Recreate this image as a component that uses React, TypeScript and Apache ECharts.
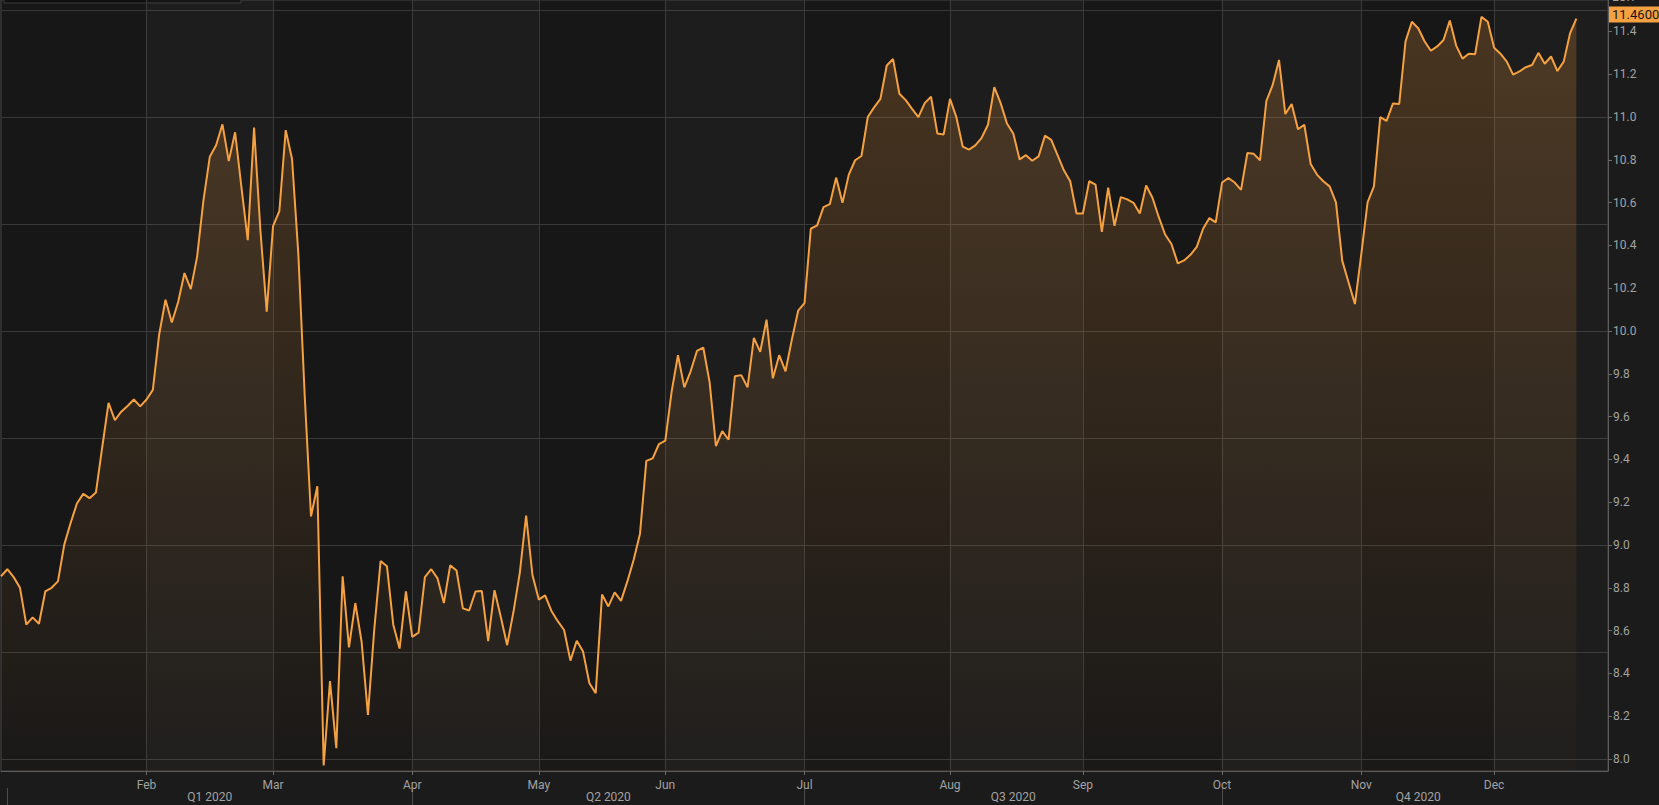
import React, { useEffect, useRef } from "react";
import * as echarts from "echarts";

// ---- data ----
const START_DATE = "2019-12-31";
const HOLIDAYS = ["2020-01-01", "2020-04-10", "2020-04-13", "2020-05-01", "2020-12-24", "2020-12-25"];
const SLOT_COUNT = 255; // trading-day slots on the axis (data + empty space to the right)
const MONTH_LABELS = ["", "Feb", "Mar", "Apr", "May", "Jun", "Jul", "Aug", "Sep", "Oct", "Nov", "Dec"];
const QUARTER_LABELS = ["Q1 2020", "Q2 2020", "Q3 2020", "Q4 2020"];
const Y_LABEL_TICKS = [8.0, 8.2, 8.4, 8.6, 8.8, 9.0, 9.2, 9.4, 9.6, 9.8, 10.0, 10.2, 10.4, 10.6, 10.8, 11.0, 11.2, 11.4];
const Y_GRID_LEVELS = [8.0, 8.5, 9.0, 9.5, 10.0, 10.5, 11.0, 11.5];
const Y_MIN = 7.944;
const Y_MAX = 11.547;
const CURRENCY = "EUR";
const PRICES = [
  8.854, 8.887, 8.85, 8.8, 8.628, 8.662, 8.632, 8.783, 8.8, 8.83,
  9.002, 9.103, 9.194, 9.239, 9.219, 9.245, 9.457, 9.664, 9.583, 9.623,
  9.65, 9.68, 9.648, 9.68, 9.725, 9.984, 10.146, 10.04, 10.136, 10.271,
  10.196, 10.348, 10.611, 10.814, 10.868, 10.966, 10.794, 10.929, 10.672, 10.425,
  10.951, 10.47, 10.091, 10.49, 10.561, 10.939, 10.804, 10.358, 9.7, 9.134,
  9.275, 7.97, 8.364, 8.051, 8.854, 8.522, 8.729, 8.547, 8.206, 8.607,
  8.925, 8.901, 8.628, 8.516, 8.783, 8.571, 8.591, 8.85, 8.887, 8.844,
  8.729, 8.905, 8.881, 8.704, 8.694, 8.783, 8.785, 8.551, 8.789, 8.664,
  8.532, 8.688, 8.87, 9.138, 8.86, 8.745, 8.765, 8.692, 8.644, 8.603,
  8.46, 8.553, 8.502, 8.354, 8.308, 8.769, 8.713, 8.779, 8.739, 8.83,
  8.931, 9.053, 9.393, 9.405, 9.472, 9.488, 9.717, 9.887, 9.737, 9.812,
  9.907, 9.923, 9.761, 9.462, 9.532, 9.492, 9.789, 9.794, 9.737, 9.968,
  9.903, 10.053, 9.779, 9.887, 9.812, 9.96, 10.095, 10.13, 10.478, 10.494,
  10.579, 10.593, 10.717, 10.599, 10.731, 10.798, 10.818, 11.0, 11.045, 11.085,
  11.241, 11.271, 11.109, 11.079, 11.038, 11.0, 11.065, 11.095, 10.923, 10.919,
  11.085, 11.0, 10.862, 10.848, 10.868, 10.903, 10.964, 11.14, 11.065, 10.97,
  10.923, 10.802, 10.822, 10.796, 10.816, 10.913, 10.893, 10.822, 10.751, 10.7,
  10.549, 10.549, 10.7, 10.684, 10.464, 10.67, 10.492, 10.626, 10.615, 10.599,
  10.549, 10.68, 10.623, 10.532, 10.451, 10.407, 10.316, 10.33, 10.356, 10.393,
  10.478, 10.528, 10.508, 10.694, 10.715, 10.694, 10.66, 10.832, 10.828, 10.798,
  11.075, 11.15, 11.267, 11.014, 11.061, 10.943, 10.964, 10.781, 10.731, 10.7,
  10.676, 10.601, 10.328, 10.227, 10.126, 10.358, 10.601, 10.676, 11.0, 10.982,
  11.063, 11.061, 11.354, 11.445, 11.415, 11.354, 11.31, 11.33, 11.36, 11.451,
  11.334, 11.273, 11.296, 11.294, 11.468, 11.445, 11.324, 11.296, 11.259, 11.198,
  11.213, 11.233, 11.243, 11.3, 11.249, 11.283, 11.215, 11.259, 11.391, 11.46,
];

function buildDates(): string[] {
  const out: string[] = [];
  const d = new Date(START_DATE + "T00:00:00Z");
  while (out.length < SLOT_COUNT) {
    const wd = d.getUTCDay();
    const s = d.toISOString().slice(0, 10);
    if (wd !== 0 && wd !== 6 && HOLIDAYS.indexOf(s) < 0) out.push(s);
    d.setUTCDate(d.getUTCDate() + 1);
  }
  return out;
}

export default function App() {
  const ref = useRef<HTMLDivElement>(null);

  useEffect(() => {
    if (!ref.current) return;
    const chart = echarts.init(ref.current, null, { renderer: "svg" });

    const dates = buildDates();
    const monthOf = (s: string) => parseInt(s.slice(5, 7), 10) - 1;
    const monthStarts: number[] = [];
    for (let i = 1; i < dates.length; i++) {
      if (monthOf(dates[i]) !== monthOf(dates[i - 1])) monthStarts.push(i);
    }
    const labelledMonthStarts = new Set(monthStarts.filter((i) => MONTH_LABELS[monthOf(dates[i])] !== ""));
    const quarterStarts = monthStarts.filter((i) => monthOf(dates[i]) % 3 === 0);
    const quarterStartSet = new Set(quarterStarts);
    const quarterLabelAt = new Map<number, string>();
    quarterStarts.forEach((s, q) => {
      const e = q + 1 < quarterStarts.length ? quarterStarts[q + 1] : dates.length - 1;
      quarterLabelAt.set(Math.round((s + e) / 2), QUARTER_LABELS[q]);
    });

    // alternating month bands (even months lighter)
    const bands: any[] = [];
    monthStarts.forEach((s, k) => {
      const m = monthOf(dates[s]);
      if (m % 2 === 1) {
        const e = k + 1 < monthStarts.length ? monthStarts[k + 1] : dates.length - 1;
        bands.push([{ xAxis: dates[s] }, { xAxis: dates[e] }]);
      }
    });

    const last = PRICES[PRICES.length - 1];
    const labelColor = "#a2a2a2";
    const gridColor = "#383838";

    chart.setOption({
      animation: false,
      backgroundColor: "#1b1b1b",
      textStyle: { fontFamily: "Roboto, 'Open Sans', sans-serif" },
      grid: {
        left: 1,
        right: 51,
        top: 0,
        bottom: 34,
        show: true,
        backgroundColor: "#171717",
        borderColor: "#444444",
        borderWidth: 1,
      },
      xAxis: [
        {
          type: "category",
          data: dates,
          boundaryGap: false,
          position: "bottom",
          axisLine: { show: true, lineStyle: { color: "#5c5c5c", width: 1 } },
          axisTick: {
            show: true,
            length: 4,
            interval: (i: number) => labelledMonthStarts.has(i),
            lineStyle: { color: "#6a6a6a" },
          },
          axisLabel: {
            show: true,
            interval: (i: number) => labelledMonthStarts.has(i),
            formatter: (v: string) => MONTH_LABELS[monthOf(v)],
            color: labelColor,
            fontSize: 12,
            margin: 8,
          },
          splitLine: {
            show: true,
            interval: (i: number) => labelledMonthStarts.has(i),
            lineStyle: { color: gridColor, width: 1 },
          },
        },
        {
          type: "category",
          data: dates,
          boundaryGap: false,
          position: "bottom",
          offset: 17,
          axisLine: { show: false },
          axisTick: {
            show: true,
            length: 17,
            interval: (i: number) => quarterStartSet.has(i),
            lineStyle: { color: "#4c4c4c" },
          },
          axisLabel: {
            show: true,
            interval: (i: number) => quarterLabelAt.has(i),
            formatter: (_v: string, i: number) => quarterLabelAt.get(i) || "",
            color: labelColor,
            fontSize: 12,
            margin: 3,
          },
          splitLine: { show: false },
        },
      ],
      yAxis: [
        {
          type: "value",
          position: "right",
          min: Y_MIN,
          max: Y_MAX,
          axisLine: { show: true, lineStyle: { color: "#5c5c5c" } },
          axisTick: {
            show: true,
            length: 4,
            customValues: Y_LABEL_TICKS,
            lineStyle: { color: "#6a6a6a" },
          },
          axisLabel: {
            show: true,
            customValues: Y_LABEL_TICKS,
            formatter: (v: number) => v.toFixed(1),
            color: labelColor,
            fontSize: 12,
            margin: 5,
          },
          splitLine: { show: false },
        },
        {
          type: "value",
          position: "right",
          min: Y_MIN,
          max: Y_MAX,
          axisLine: { show: false },
          axisTick: { show: false, customValues: Y_GRID_LEVELS },
          axisLabel: { show: false, customValues: Y_GRID_LEVELS },
          splitLine: { show: true, lineStyle: { color: gridColor, width: 1 } },
        },
      ],
      series: [
        {
          type: "line",
          name: "bands",
          data: [],
          z: 1,
          silent: true,
          markArea: {
            silent: true,
            itemStyle: { color: "rgba(255,255,255,0.028)" },
            data: bands,
          },
        },
        {
          type: "line",
          name: "price",
          data: PRICES,
          xAxisIndex: 0,
          yAxisIndex: 0,
          z: 3,
          showSymbol: false,
          symbol: "none",
          lineStyle: { color: "#f5a142", width: 2 },
          areaStyle: {
            origin: "start",
            color: new echarts.graphic.LinearGradient(0, 0, 0, 1, [
              { offset: 0, color: "rgba(245,155,62,0.32)" },
              { offset: 1, color: "rgba(245,155,62,0.02)" },
            ]),
          },
          markLine: {
            silent: true,
            symbol: "none",
            lineStyle: { width: 0, color: "rgba(0,0,0,0)" },
            data: [{ yAxis: last }],
            label: {
              show: true,
              position: "end",
              formatter: () => last.toFixed(4),
              backgroundColor: "#f5a142",
              color: "#161616",
              fontSize: 13,
              padding: [2, 3, 1, 3],
              distance: 1,
              offset: [0, -4],
            },
          },
        },
      ],
      graphic: [
        {
          type: "rect",
          shape: { x: 4, y: -12, width: 237, height: 15 },
          style: { fill: "#101010", stroke: "#3a3a3a", lineWidth: 1 },
          silent: true,
        },
        {
          type: "text",
          x: 1612,
          y: -9,
          style: { text: CURRENCY, fill: labelColor, fontSize: 12, verticalAlign: "top", fontFamily: "Roboto, sans-serif" },
          silent: true,
        },
      ],
    });

    return () => chart.dispose();
  }, []);

  return (
    <div
      ref={ref}
      style={{ position: "absolute", left: 0, top: 0, width: 1659, height: 805, background: "#1b1b1b" }}
    />
  );
}
